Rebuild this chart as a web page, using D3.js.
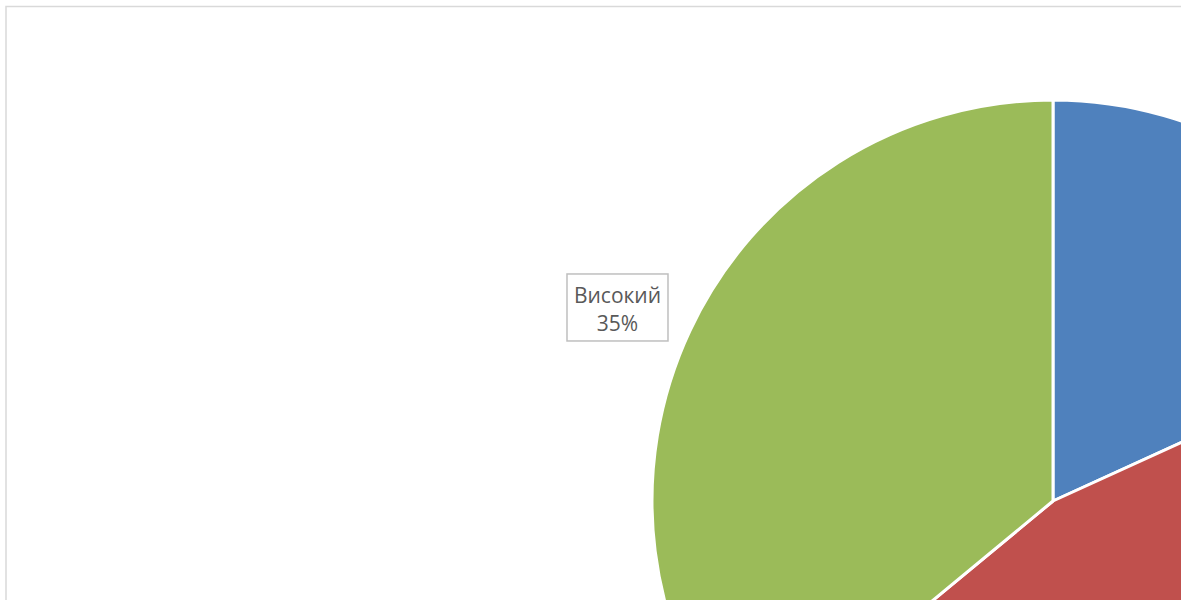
<!DOCTYPE html>
<html><head><meta charset="utf-8">
<script src="https://cdn.jsdelivr.net/npm/d3@7"></script>
<style>html,body{margin:0;padding:0;background:#fff;overflow:hidden}</style>
</head><body>
<svg id="c" width="1181" height="600"></svg>
<script>
const categories = ["Низький", "Середній", "Високий"];
const values = [18.2, 45.8, 36.0];
const percentLabels = ["18%", "46%", "35%"];
const colors = ["#4F81BD", "#C0504D", "#9BBB59"];

const W = 1181, H = 600;
const svg = d3.select("#c");
svg.append("rect").attr("x", 6).attr("y", 6.5).attr("width", 1300).attr("height", 700)
  .attr("fill", "#fff").attr("stroke", "#d9d9d9").attr("stroke-width", 1.5);

const cx = 1053, cy = 501, r = 401;
const g = svg.append("g").attr("transform", `translate(${cx},${cy})`);
const pie = d3.pie().value(d => d).sort(null);
const arcs = pie(values);
const arc = d3.arc().innerRadius(0).outerRadius(r);
g.selectAll("path").data(arcs).enter().append("path")
  .attr("d", arc).attr("fill", (d, i) => colors[i])
  .attr("stroke", "#fff").attr("stroke-width", 3).attr("stroke-linejoin", "round");

const labelArc = d3.arc().innerRadius(478).outerRadius(478);
const w = 101, h = 67;
arcs.forEach((d, i) => {
  const [lx0, ly0] = labelArc.centroid(d);
  const lx = lx0 - 3, ly = ly0 + 10;
  // labels of slices whose box lies outside the visible (cropped) area are not shown
  const ax = cx + lx, ay = cy + ly;
  if (ax - w / 2 < 0 || ax + w / 2 > W || ay - h / 2 < 0 || ay + h / 2 > H) return;
  const lg = g.append("g").attr("transform", `translate(${lx},${ly})`);
  lg.append("rect").attr("x", -w / 2).attr("y", -h / 2).attr("width", w).attr("height", h)
    .attr("fill", "#fff").attr("stroke", "#bfbfbf").attr("stroke-width", 1.5);
  const t = lg.append("text").attr("text-anchor", "middle")
    .attr("font-family", "'Open Sans', 'Noto Sans', sans-serif").attr("font-size", 21)
    .attr("fill", "#595959");
  t.append("tspan").attr("x", 0).attr("y", -4.5).text(categories[i]);
  t.append("tspan").attr("x", 0).attr("y", 23.5).text(percentLabels[i]);
});
</script>
</body></html>
